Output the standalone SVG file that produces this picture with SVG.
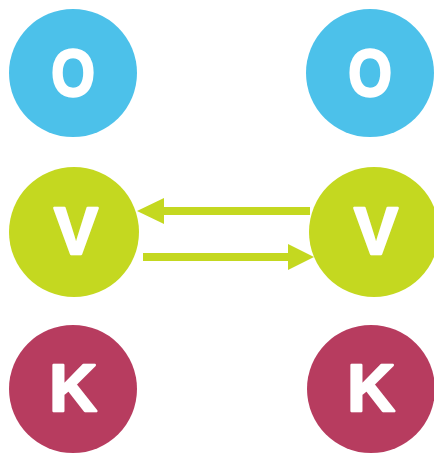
<svg xmlns="http://www.w3.org/2000/svg" width="434" height="454" viewBox="0 0 434 454">
<style>
.o{fill:#4CC1EA}.v{fill:#C4D820}.k{fill:#B73C5F}
text{fill:#fff;stroke:#fff;stroke-width:2.5;stroke-linejoin:round;font-family:"Liberation Sans",Arial,sans-serif;font-weight:bold;font-size:66px;text-anchor:middle}
.c{stroke:#C4D820;stroke-width:8;fill:none}
.h{fill:#C4D820}
</style>
<rect width="434" height="454" fill="#fff"/>
<g id="connectors">
<line class="c" x1="310" y1="211" x2="160" y2="211"/>
<polygon class="h" points="137,211 164,198 164,224"/>
<line class="c" x1="143" y1="257" x2="292" y2="257"/>
<polygon class="h" points="314,257 288,244 288,270"/>
</g>
<g id="o1"><circle class="o" cx="73" cy="73" r="64"/><text x="73" y="96" transform="translate(73 0) scale(0.85 1) translate(-73 0)">O</text></g>
<g id="o2"><circle class="o" cx="370" cy="73" r="64"/><text x="370" y="96" transform="translate(370 0) scale(0.85 1) translate(-370 0)">O</text></g>
<g id="v1"><circle class="v" cx="74" cy="232" r="65"/><text x="76" y="254">V</text></g>
<g id="v2"><circle class="v" cx="374" cy="232" r="65"/><text x="376" y="254">V</text></g>
<g id="k1"><circle class="k" cx="73" cy="389" r="64"/><text x="73" y="411">K</text></g>
<g id="k2"><circle class="k" cx="371" cy="389" r="64"/><text x="371" y="411">K</text></g>
</svg>
